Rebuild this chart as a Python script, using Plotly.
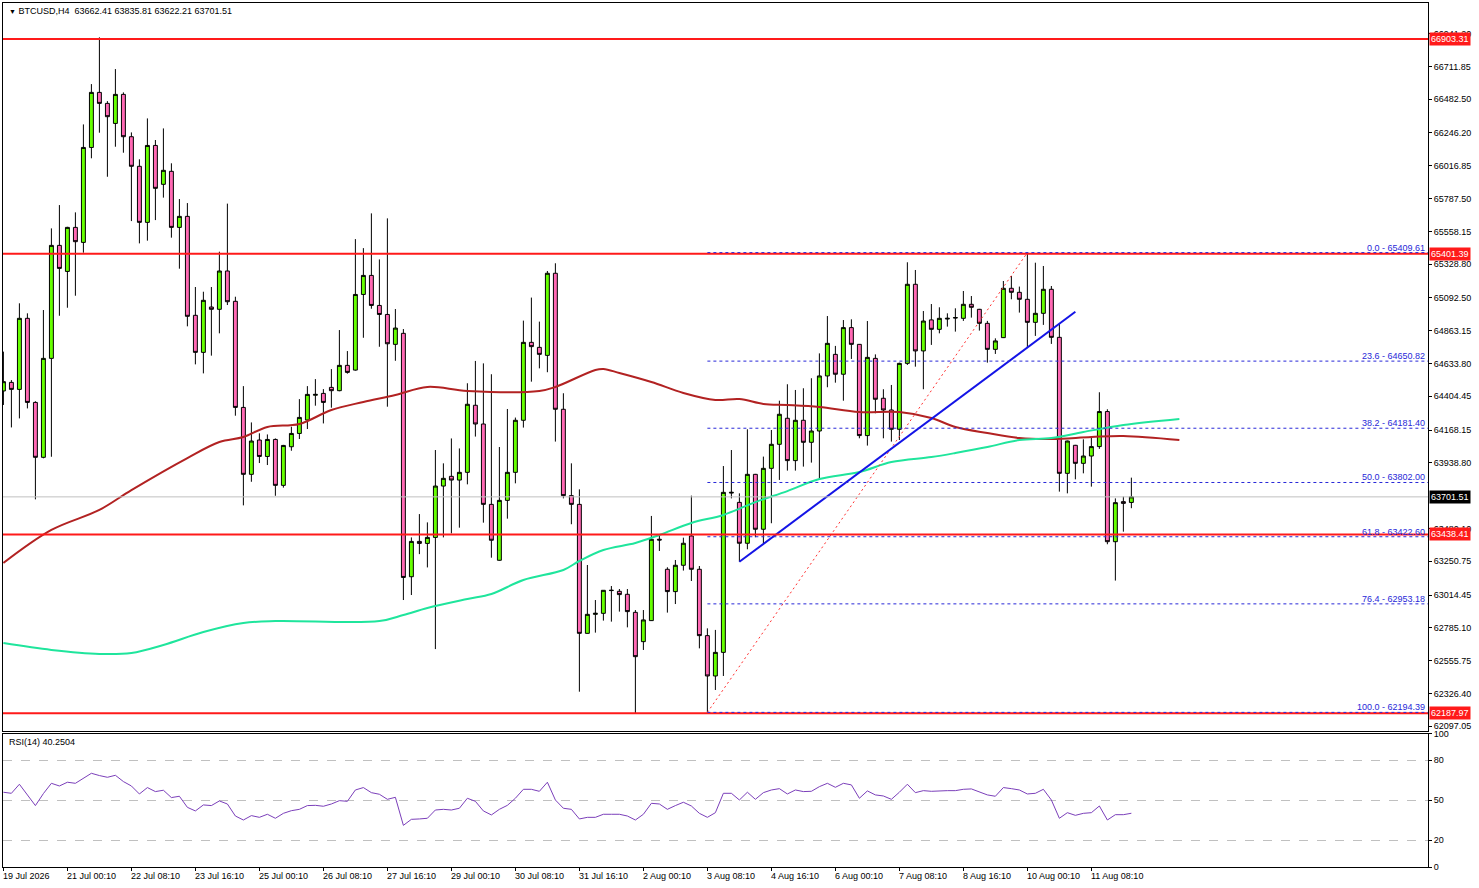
import plotly.graph_objects as go

# H4 bars, index 0 = 19 Jul 16:10
opens = [64442, 64502, 64453, 64950, 64362, 63978, 64670, 65460, 65278, 65586,
         65481, 66145, 66530, 66453, 66313, 66516, 66220, 66013, 65621, 66159,
         65887, 65978, 65586, 65663, 64971, 64712, 65029, 65013, 65281, 65069,
         64327, 63859, 64099, 63984, 64103, 63782, 64052, 64145, 64239, 64412,
         64425, 64467, 64444, 64621, 64588, 65117, 65250, 65040, 64977, 64768,
         64845, 63143, 63390, 63376, 63418, 63777, 63845, 63819, 63873, 64342,
         64211, 63649, 63258, 63677, 63873, 64237, 64782, 64747, 64691, 65265,
         64314, 63710, 63649, 62747, 62880, 62887, 63046, 63041, 63020, 62894,
         62689, 62836, 63405, 63195, 63039, 63223, 63428, 63195, 62731, 62449,
         62614, 63728, 63663, 63377, 63859, 63475, 63901, 64069, 64251, 63955,
         64237, 64083, 64162, 64547, 64698, 64559, 64885, 64768, 64130, 64670,
         64391, 64309, 64174, 64635, 65188, 64722, 64939, 64873, 64945, 64952,
         64950, 65048, 65013, 64915, 64733, 64815, 65160, 65132, 65083, 64922,
         64985, 65153, 64817, 63866, 64062, 63936, 63987, 64053, 64298, 63388,
         63668, 63662.41]
highs = [64717, 64518, 65055, 64985, 64370, 65008, 65579, 65742, 65590, 65691,
         66306, 66588, 66915, 66469, 66693, 66530, 66250, 66062, 66348, 66197,
         66278, 66034, 65784, 65756, 65169, 65136, 65169, 65416, 65752, 65101,
         64476, 64222, 64146, 64138, 64110, 64065, 64192, 64385, 64476, 64525,
         64455, 64595, 64868, 64721, 65504, 65441, 65684, 65362, 65649, 65015,
         64875, 63418, 63581, 63523, 64029, 63936, 64110, 64040, 64496, 64652,
         64635, 64559, 64050, 64316, 64256, 64934, 65095, 64927, 65281, 65335,
         64426, 63936, 63754, 63225, 62980, 63050, 63078, 63057, 63057, 62910,
         62910, 63568, 63428, 63209, 63260, 63416, 63710, 63218, 62782, 62771,
         63917, 64029, 63726, 64174, 63862, 63983, 64169, 64374, 64489, 64449,
         64461, 64531, 64705, 64966, 64757, 64938, 64943, 64770, 64931, 64698,
         64454, 64484, 64640, 65342, 65288, 65001, 65050, 65027, 64985, 65020,
         65141, 65106, 65016, 64932, 64810, 65211, 65246, 65172, 65409.61, 65339,
         65316, 65176, 64911, 64095, 64065, 64104, 64123, 64433, 64314, 63691,
         63703, 63835.81]
lows = [64344, 64187, 64250, 64320, 63684, 63971, 63982, 64968, 65024, 65108,
        65409, 66069, 66248, 65940, 66150, 66108, 65630, 65474, 65493, 65637,
        65794, 65514, 65297, 64894, 64628, 64565, 64689, 64845, 65043, 64269,
        63642, 63807, 63938, 63924, 63709, 63766, 64024, 64106, 64176, 64339,
        64215, 64325, 64440, 64563, 64584, 64814, 65017, 64751, 64332, 64653,
        62980, 63015, 63301, 63208, 62637, 63418, 63446, 63486, 63789, 64123,
        63521, 63276, 63255, 63549, 63796, 64186, 64507, 64600, 64573, 64088,
        63691, 63510, 62339, 62745, 62752, 62836, 62829, 62899, 62789, 62187.97,
        62631, 62834, 63323, 62892, 62952, 63186, 63113, 62642, 62194.39, 62351,
        62449, 63691, 63248, 63335, 63419, 63377, 63517, 63820, 63885, 63885,
        63913, 63941, 63831, 64468, 64500, 64374, 64666, 64111, 64060, 64286,
        64111, 64088, 64099, 64624, 64612, 64454, 64764, 64845, 64892, 64857,
        64932, 64955, 64864, 64640, 64701, 64812, 65083, 64990, 64747, 64827,
        64904, 64771, 63738, 63726, 63824, 63866, 63773, 64037, 63370, 63116,
        63458, 63622.21]
closes = [64507, 64453, 64950, 64362, 63978, 64670, 65460, 65299, 65586, 65486,
          66145, 66530, 66453, 66360, 66516, 66220, 66013, 65621, 66159, 65859,
          65985, 65586, 65663, 64964, 64712, 65076, 65013, 65281, 65066, 64327,
          63859, 64092, 63984, 64103, 63782, 64061, 64145, 64257, 64418, 64418,
          64362, 64444, 64621, 64572, 65117, 65250, 65040, 64977, 64772, 64882,
          63138, 63390, 63376, 63418, 63777, 63831, 63819, 63873, 64349, 64211,
          63649, 63398, 63677, 63873, 64237, 64782, 64752, 64698, 65265, 64314,
          63710, 63649, 62747, 62880, 62887, 63048, 63048, 63018, 62899, 62584,
          62841, 63405, 63400, 63039, 63223, 63377, 63195, 62731, 62449, 62614,
          63733, 63733, 63377, 63859, 63475, 63901, 64069, 64279, 63955, 64237,
          64083, 64162, 64547, 64775, 64559, 64885, 64768, 64130, 64677, 64384,
          64309, 64174, 64635, 65188, 64722, 64931, 64873, 64950, 64950, 64955,
          65048, 65027, 64915, 64733, 64792, 65160, 65132, 65083, 64922, 64985,
          65153, 64817, 63866, 64092, 63936, 63987, 64053, 64298, 63388, 63661,
          63656, 63701.51]

rsi = [56.0, 55.2, 62.0, 54.0, 46.0, 55.0, 62.7, 60.7, 63.5, 62.7,
       66.5, 70.2, 68.5, 67.2, 68.7, 64.0, 60.7, 54.7, 59.5, 56.5,
       57.5, 52.0, 53.0, 44.7, 42.0, 46.5, 46.0, 49.5, 47.2, 38.2,
       35.2, 38.5, 37.2, 39.5, 36.5, 40.2, 42.2, 43.2, 46.0, 46.2,
       45.5, 47.2, 49.7, 49.2, 57.7, 59.5, 55.7, 54.5, 50.7, 52.2,
       31.2, 35.7, 36.0, 36.5, 42.7, 43.2, 42.7, 44.0, 51.5, 49.2,
       42.0, 39.0, 43.2, 46.2, 51.5, 58.2, 58.2, 56.7, 63.5, 50.2,
       44.0, 43.2, 36.0, 37.2, 37.2, 39.5, 39.5, 39.5, 38.2, 35.2,
       39.5, 47.7, 47.2, 43.2, 46.0, 48.5, 45.7, 40.2, 37.2, 40.7,
       55.2, 55.2, 50.2, 56.0, 50.7, 55.7, 57.7, 58.7, 54.7, 57.7,
       56.5, 56.7, 60.2, 62.7, 59.7, 62.7, 61.5, 51.5, 57.0, 54.0,
       53.2, 50.7, 56.0, 62.0, 55.7, 57.2, 56.7, 57.2, 57.2, 57.2,
       58.2, 58.5, 56.5, 54.0, 53.0, 59.5, 58.7, 57.7, 54.7, 55.2,
       58.2, 50.2, 36.5, 40.7, 38.7, 40.2, 40.7, 45.7, 35.2, 39.2,
       39.2, 40.25]

# moving averages (shifted, so they run past the last bar)
ma_red_x = [0, 6, 12, 16, 23, 27, 30, 33, 37, 41, 45, 49, 53, 58, 67, 69, 74, 75,
            77, 81, 85, 89, 92, 95, 98, 102, 107, 112, 116, 119, 123, 127, 131,
            136, 140, 147]
ma_red_y = [63239, 63470, 63610, 63749, 63973, 64085, 64120, 64190, 64211, 64309,
            64365, 64414, 64470, 64442, 64442, 64470, 64589, 64596, 64568, 64505,
            64428, 64379, 64386, 64351, 64344, 64330, 64295, 64295, 64253, 64190,
            64148, 64113, 64106, 64120, 64127, 64099]
ma_green_x = [0, 6, 12, 16, 20, 25, 30, 34, 47, 50, 53, 58, 61, 65, 70, 72, 75, 79,
              82, 86, 90, 94, 98, 102, 107, 111, 116, 119, 123, 127, 131, 135,
              140, 147]
ma_green_y = [62679, 62631, 62603, 62610, 62666, 62756, 62819, 62833, 62833, 62875,
              62924, 62987, 63022, 63120, 63190, 63253, 63330, 63379, 63435, 63519,
              63575, 63665, 63742, 63826, 63875, 63945, 63980, 64008, 64050, 64099,
              64113, 64155, 64204, 64246]

levels = [66903.31, 65401.39, 63438.41, 62187.97]
last_price = 63701.51

fib_pct = [0.0, 23.6, 38.2, 50.0, 61.8, 76.4, 100.0]
fib_price = [65409.61, 64650.82, 64181.40, 63802.00, 63422.60, 62953.18, 62194.39]
fib_bars = [88, 128]
trend_bars = [92, 134]
trend_price = [63248, 64996]

price_ticks = [66941.20, 66711.85, 66482.50, 66246.20, 66016.85, 65787.50, 65558.15,
               65328.80, 65092.50, 64863.15, 64633.80, 64404.45, 64168.15, 63938.80,
               63480.10, 63250.75, 63014.45, 62785.10, 62555.75, 62326.40, 62097.05]
date_bars = list(range(0, 137, 8))
date_labels = ["19 Jul 2026", "21 Jul 00:10", "22 Jul 08:10", "23 Jul 16:10",
               "25 Jul 00:10", "26 Jul 08:10", "27 Jul 16:10", "29 Jul 00:10",
               "30 Jul 08:10", "31 Jul 16:10", "2 Aug 00:10", "3 Aug 08:10",
               "4 Aug 16:10", "6 Aug 00:10", "7 Aug 08:10", "8 Aug 16:10",
               "10 Aug 00:10", "11 Aug 08:10"]

FONT = "Liberation Sans"
xr = [-0.05, 178.08]
bars = list(range(len(closes)))

fig = go.Figure()
fig.add_trace(go.Candlestick(
    x=bars, open=opens, high=highs, low=lows, close=closes,
    increasing=dict(fillcolor="#66FF00", line=dict(color="black", width=1)),
    decreasing=dict(fillcolor="#FF69B4", line=dict(color="black", width=1)),
    hoverinfo="skip", showlegend=False))
fig.add_trace(go.Scatter(x=ma_red_x, y=ma_red_y, mode="lines", line_shape="spline",
                         line=dict(color="#B22222", width=2), hoverinfo="skip"))
fig.add_trace(go.Scatter(x=ma_green_x, y=ma_green_y, mode="lines", line_shape="spline",
                         line=dict(color="#1FE59C", width=2), hoverinfo="skip"))
fig.add_trace(go.Scatter(x=fib_bars, y=[fib_price[-1], fib_price[0]], mode="lines",
                         line=dict(color="#FF3030", width=1, dash="2px,3px"),
                         hoverinfo="skip"))
fig.add_trace(go.Scatter(x=trend_bars, y=trend_price, mode="lines",
                         line=dict(color="#1414E6", width=2), hoverinfo="skip"))
fig.add_trace(go.Scatter(x=bars, y=rsi, mode="lines", xaxis="x2", yaxis="y2",
                         line=dict(color="#7B3FBA", width=1), hoverinfo="skip"))

shapes = []
shapes.append(dict(type="line", xref="paper", x0=0, x1=1, yref="y",
                   y0=last_price, y1=last_price, line=dict(color="#C0C0C0", width=1)))
for lv in levels:
    shapes.append(dict(type="line", xref="paper", x0=0, x1=1, yref="y", y0=lv, y1=lv,
                       line=dict(color="#FF1A1A", width=2)))
for fp in fib_price:
    shapes.append(dict(type="line", xref="x", x0=fib_bars[0], x1=xr[1], yref="y",
                       y0=fp, y1=fp, line=dict(color="#2828D8", width=1, dash="3px,3px")))

ann = []
ann.append(dict(xref="paper", yref="paper", x=0, y=1, xanchor="left", yanchor="top",
                xshift=4, yshift=-1, showarrow=False,
                text="<span style='font-size:7px'>▼</span> BTCUSD,H4  63662.41 63835.81 63622.21 63701.51",
                font=dict(family=FONT, size=9, color="black")))
ann.append(dict(xref="paper", yref="y2 domain", x=0, y=1, xanchor="left", yanchor="top",
                xshift=4, yshift=-1, showarrow=False, text="RSI(14) 40.2504",
                font=dict(family=FONT, size=9, color="black")))
for pct, fp in zip(fib_pct, fib_price):
    ann.append(dict(xref="paper", yref="y", x=1, y=fp, xanchor="right", yanchor="bottom",
                    xshift=-1, yshift=-2, showarrow=False, text=f"{pct:.1f} - {fp:.2f}",
                    font=dict(family=FONT, size=9, color="#2828D8")))
for lv in levels:
    ann.append(dict(xref="paper", yref="y", x=1, y=lv, xanchor="left", yanchor="middle",
                    xshift=1, showarrow=False, text=f"{lv:.2f}", bgcolor="#FF1A1A",
                    borderpad=1, font=dict(family=FONT, size=9, color="white")))
ann.append(dict(xref="paper", yref="y", x=1, y=last_price, xanchor="left", yanchor="middle",
                xshift=1, showarrow=False, text=f"{last_price:.2f}", bgcolor="black",
                borderpad=1, font=dict(family=FONT, size=9, color="white")))
for b, lab in zip(date_bars, date_labels):
    ann.append(dict(xref="x2", yref="y2 domain", x=b, y=0, xanchor="left", yanchor="top",
                    xshift=-2, yshift=-2, showarrow=False, text=lab,
                    font=dict(family=FONT, size=9, color="black")))

axis_common = dict(showline=True, mirror=True, linecolor="black", linewidth=1,
                   zeroline=False, showgrid=False, fixedrange=True)
fig.update_layout(
    width=1479, height=888,
    margin=dict(l=3, r=51, t=3, b=21, autoexpand=False),
    paper_bgcolor="white", plot_bgcolor="white",
    showlegend=False, hovermode=False,
    font=dict(family=FONT, size=9, color="black"),
    xaxis=dict(domain=[0, 1], range=xr, anchor="y", showticklabels=False, ticks="",
               rangeslider=dict(visible=False), **axis_common),
    yaxis=dict(domain=[0.1574, 1], range=[62064.1, 67155.06], side="right",
               tickvals=price_ticks, ticktext=[f"{t:.2f}" for t in price_ticks],
               ticks="outside", ticklen=3, tickcolor="black", **axis_common),
    xaxis2=dict(domain=[0, 1], range=xr, anchor="y2", matches="x", tickvals=date_bars,
                showticklabels=False, ticks="outside", ticklen=3, tickcolor="black",
                **axis_common),
    yaxis2=dict(domain=[0, 0.1545], range=[0, 100], side="right",
                tickvals=[0, 20, 50, 80, 100], ticks="outside", ticklen=3,
                tickcolor="black", showline=True, mirror=True, linecolor="black",
                zeroline=False, showgrid=True, gridcolor="#C0C0C0", griddash="dash",
                fixedrange=True),
    shapes=shapes, annotations=ann)

fig.write_html("out.html", config={"displayModeBar": False},
               post_script="document.body.style.margin='0';")
